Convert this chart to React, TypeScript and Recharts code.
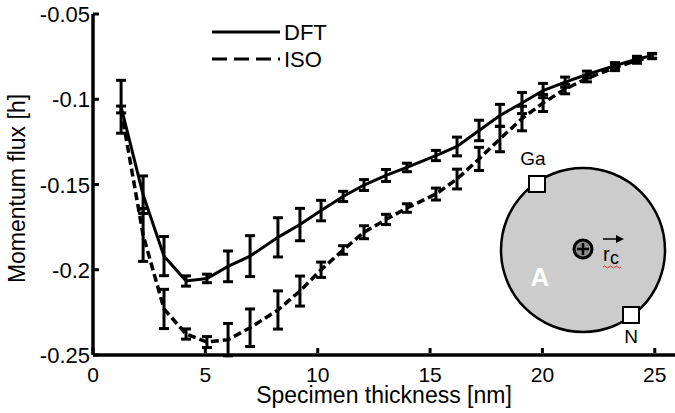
import React from 'react'
import { LineChart, Line, XAxis, YAxis, ErrorBar } from 'recharts'

// specimen thickness [nm]
const thickness = [1.25, 2.23, 3.16, 4.14, 5.07, 6.01, 6.99, 8.23, 9.21, 10.15, 11.13, 12.06, 13.04, 13.97, 15.26, 16.2, 17.18, 18.11, 19.09, 20.03, 21.01, 21.98, 23.23, 24.21, 24.88]
const dftFlux = [-0.1044, -0.156, -0.192, -0.2066, -0.2051, -0.198, -0.192, -0.181, -0.1735, -0.1653, -0.157, -0.1503, -0.1447, -0.14, -0.133, -0.1277, -0.1183, -0.1095, -0.1022, -0.0949, -0.09, -0.0855, -0.0803, -0.0764, -0.0745]
const dftErr = [0.0155, 0.011, 0.0115, 0.003, 0.0025, 0.009, 0.012, 0.0115, 0.0095, 0.006, 0.003, 0.0032, 0.0035, 0.0025, 0.003, 0.0055, 0.006, 0.0065, 0.0062, 0.0042, 0.003, 0.002, 0.0018, 0.0016, 0.0014]
const isoFlux = [-0.106, -0.1796, -0.223, -0.2377, -0.2424, -0.241, -0.234, -0.2236, -0.2125, -0.2, -0.1884, -0.178, -0.1705, -0.1638, -0.1556, -0.1468, -0.135, -0.1233, -0.1113, -0.1022, -0.094, -0.0878, -0.0814, -0.0773, -0.0748]
const isoErr = [0.002, 0.0155, 0.0115, 0.003, 0.0032, 0.0095, 0.011, 0.0112, 0.0088, 0.0045, 0.0025, 0.0038, 0.003, 0.0025, 0.0035, 0.0058, 0.0068, 0.0075, 0.0072, 0.005, 0.0028, 0.002, 0.0018, 0.0016, 0.0014]

const xTicks = [0, 5, 10, 15, 20, 25]
const yTicks = [-0.25, -0.2, -0.15, -0.1, -0.05]

const data = thickness.map((t, i) => ({
  t,
  dft: dftFlux[i],
  dftErr: dftErr[i],
  iso: isoFlux[i],
  isoErr: isoErr[i],
}))

const font = 'Liberation Sans, Arial, Helvetica, sans-serif'

const YTick = (props: any) => {
  const { x, y, payload } = props
  return (
    <g>
      <line x1={x + 3} x2={x + 9} y1={y} y2={y} stroke="#000" strokeWidth={3} />
      <text x={x} y={y} dy={8} textAnchor="end" fontSize={22} fill="#000" fontFamily={font}>
        {String(payload.value)}
      </text>
    </g>
  )
}

const XTick = (props: any) => {
  const { x, y, payload } = props
  return (
    <g>
      <line x1={x} x2={x} y1={y - 2} y2={y - 7} stroke="#000" strokeWidth={3} />
      <text x={x} y={y} dy={27} textAnchor="middle" fontSize={21} fill="#000" fontFamily={font}>
        {String(payload.value)}
      </text>
    </g>
  )
}

function Inset() {
  return (
    <svg width={675} height={413} style={{ position: 'absolute', left: 0, top: 0, pointerEvents: 'none' }} fontFamily={font}>
      {/* legend */}
      <line x1={212} x2={280} y1={32} y2={32} stroke="#000" strokeWidth={3} />
      <text x={284} y={40} fontSize={22} fill="#000">DFT</text>
      <line x1={212} x2={280} y1={59} y2={59} stroke="#000" strokeWidth={3} strokeDasharray="15 7" />
      <text x={284} y={67} fontSize={22} fill="#000">ISO</text>

      {/* schematic */}
      <circle cx={583} cy={250} r={82} fill="#cccccc" stroke="#000" strokeWidth={2.5} />
      <rect x={529} y={176} width={16} height={16} fill="#fff" stroke="#000" strokeWidth={2} />
      <text x={533} y={165} fontSize={19} textAnchor="middle" fill="#000">Ga</text>
      <rect x={623} y={307} width={16} height={16} fill="#fff" stroke="#000" strokeWidth={2} />
      <text x={631} y={343} fontSize={19} textAnchor="middle" fill="#000">N</text>
      <circle cx={583} cy={249} r={9} fill="#8c8c8c" stroke="#000" strokeWidth={3} />
      <line x1={577} x2={589} y1={249} y2={249} stroke="#000" strokeWidth={2.5} />
      <line x1={583} x2={583} y1={243} y2={255} stroke="#000" strokeWidth={2.5} />
      <text x={603} y={261} fontSize={20} fill="#000">r</text>
      <text x={610} y={264} fontSize={18} fill="#000">c</text>
      <line x1={603} x2={617} y1={239} y2={239} stroke="#000" strokeWidth={1.5} />
      <path d="M616,235 L624,239 L616,243 Z" fill="#000" />
      <path d="M603,267 q1.5,-2 3,0 t3,0 t3,0 t3,0 t3,0 t3,0" fill="none" stroke="#e03030" strokeWidth={1} />
      <text x={540} y={286} fontSize={26} fontWeight="bold" textAnchor="middle" fill="#fff">A</text>
    </svg>
  )
}

export default function App() {
  return (
    <div style={{ position: 'absolute', left: 0, top: 0, width: 675, height: 413, background: '#fff', fontFamily: font }}>
      <LineChart width={675} height={413} data={data} margin={{ top: 14, right: 0, bottom: 28, left: 0 }}>
        <XAxis
          dataKey="t"
          type="number"
          domain={[0, 25.9]}
          ticks={xTicks}
          allowDataOverflow
          height={30}
          tickSize={0}
          tickMargin={0}
          tickLine={false}
          axisLine={{ stroke: '#000', strokeWidth: 3.5 }}
          tick={<XTick />}
          label={{
            content: (p: any) => {
              const vb = p.viewBox || { x: 93, y: 355, width: 582 }
              return (
                <text x={vb.x + vb.width / 2} y={vb.y + 48} textAnchor="middle" fontSize={23} fill="#000" fontFamily={font}>
                  Specimen thickness [nm]
                </text>
              )
            },
          }}
        />
        <YAxis
          type="number"
          domain={[-0.25, -0.05]}
          ticks={yTicks}
          allowDataOverflow
          width={93}
          tickSize={0}
          tickMargin={3}
          tickLine={false}
          axisLine={{ stroke: '#000', strokeWidth: 3.5 }}
          tick={<YTick />}
          label={{
            content: (p: any) => {
              const vb = p.viewBox || { x: 0, y: 14, width: 93, height: 341 }
              const cx = vb.x + 25
              const cy = vb.y + vb.height / 2 + 4
              return (
                <text x={cx} y={cy} transform={`rotate(-90, ${cx}, ${cy})`} textAnchor="middle" fontSize={23} fill="#000" fontFamily={font}>
                  Momentum flux [h]
                </text>
              )
            },
          }}
        />
        <Line
          dataKey="iso"
          stroke="#000"
          strokeWidth={3.5}
          strokeDasharray="8 4"
          dot={false}
          activeDot={false}
          isAnimationActive={false}
        >
          <ErrorBar dataKey="isoErr" direction="y" width={5} stroke="#000" strokeWidth={3} isAnimationActive={false} />
        </Line>
        <Line
          dataKey="dft"
          stroke="#000"
          strokeWidth={3}
          dot={false}
          activeDot={false}
          isAnimationActive={false}
        >
          <ErrorBar dataKey="dftErr" direction="y" width={5} stroke="#000" strokeWidth={3} isAnimationActive={false} />
        </Line>
      </LineChart>
      <Inset />
    </div>
  )
}
